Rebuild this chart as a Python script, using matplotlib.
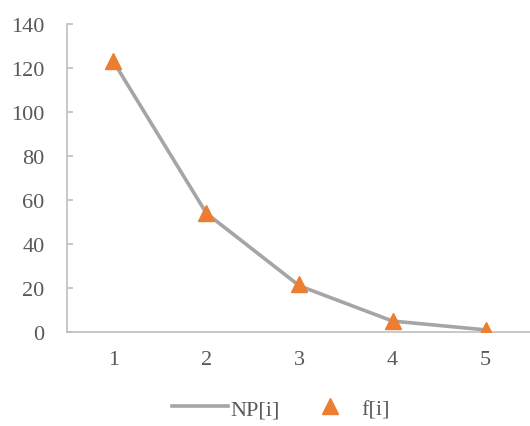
import matplotlib
matplotlib.use('Agg')
import matplotlib.pyplot as plt

# data
categories = ['1', '2', '3', '4', '5']
np_values = [123, 54, 21, 5, 1]
f_values = [123, 54, 22, 5, 1]
y_ticks = [0, 20, 40, 60, 80, 100, 120, 140]

plt.rcParams['font.family'] = ['Liberation Serif', 'DejaVu Serif']

GRAY = '#A5A5A5'
ORANGE = '#ED7D31'
AXIS = '#BFBFBF'
TEXT = '#595959'

fig = plt.figure(figsize=(5.30, 4.27), dpi=100)
ax = fig.add_axes([0.126, 0.22, 0.878, 0.7213])

x = list(range(1, len(categories) + 1))
ax.plot(x, np_values, color=GRAY, linewidth=2.6, label='NP[i]', zorder=2)
ax.plot(x, f_values, linestyle='none', marker='^', markersize=11,
        color=ORANGE, label='f[i]', zorder=3)

ax.set_xlim(0.5, 5.5)
ax.set_ylim(0, 140)
ax.set_xticks(x)
ax.set_xticklabels(categories)
ax.set_yticks(y_ticks)

for s in ['top', 'right']:
    ax.spines[s].set_visible(False)
ax.spines['left'].set_color(AXIS)
ax.spines['bottom'].set_color(AXIS)
ax.spines['left'].set_linewidth(1.2)
ax.spines['bottom'].set_linewidth(1.2)

ax.tick_params(axis='y', direction='in', length=4.5, width=1.2, color=AXIS,
               labelsize=16, labelcolor=TEXT, pad=16)
ax.tick_params(axis='x', length=0, labelsize=16, labelcolor=TEXT, pad=13)

fig.legend(loc='center', bbox_to_anchor=(0.53, 0.04), ncol=2, frameon=False,
           fontsize=16, labelcolor=TEXT, handlelength=2.5, columnspacing=1.0,
           handletextpad=0.15)

fig.savefig('out.png', dpi=100)
